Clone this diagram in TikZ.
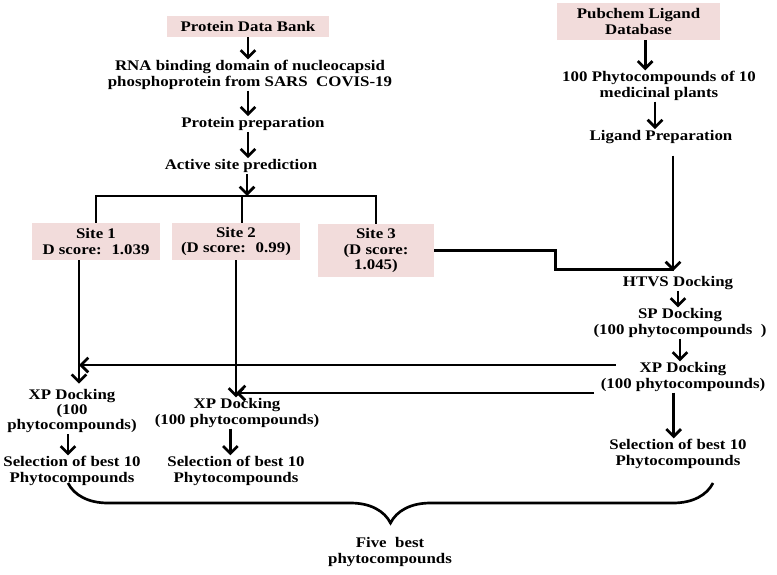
\documentclass[tikz,border=0pt]{standalone}
\usepackage{fontspec}
\setmainfont{Liberation Serif}[FakeStretch=1.15]
\usetikzlibrary{arrows.meta,decorations.pathreplacing}

\definecolor{boxpink}{RGB}{242,220,219}

\tikzset{
  lbl/.style={inner sep=0.75pt, align=center, font=\fontsize{11}{11.5}\selectfont\bfseries},
  pinkbox/.style={lbl, fill=boxpink},
  conn/.style={line width=2pt},
  arr/.style={conn, -{Straight Barb[length=5.5pt,width=11pt]}},
}

\begin{document}
\begin{tikzpicture}[x=0.75pt,y=0.75pt,yscale=-1,xscale=1]
\useasboundingbox (0,0) rectangle (777,574);

% Text Node
\node (pdb) at (248,26.5) [pinkbox, minimum width=122pt, minimum height=16pt] {Protein Data Bank};
% Text Node
\node (rna) at (250,75) [lbl] {RNA binding domain of nucleocapsid\\phosphoprotein from SARS~ COVIS-19};
% Text Node
\node (prep) at (253,124) [lbl] {Protein preparation};
% Text Node
\node (asp) at (241,166) [lbl] {Active site prediction};
\coordinate (jn) at (247,196);

% Text Node
\node (site1) at (96,241.5) [pinkbox, minimum width=96pt, minimum height=27.75pt] {Site 1\\D score:~ 1.039};
% Text Node
\node (site2) at (236,241.5) [pinkbox, minimum width=96pt, minimum height=27.75pt] {Site 2\\(D score:~ 0.99)};
% Text Node
\node (site3) at (376,250.5) [pinkbox, minimum width=87pt, minimum height=39.75pt] {Site 3\\(D score:\\1.045)};

% Text Node
\node (pub) at (638.5,21.5) [pinkbox, minimum width=122pt, minimum height=27.75pt] {Pubchem Ligand\\Database};
% Text Node
\node (phy) at (659,86) [lbl] {100 Phytocompounds of 10\\medicinal plants};
% Text Node
\node (lig) at (661,137) [lbl] {Ligand Preparation};
% Text Node
\node (htvs) at (678,283) [lbl] {HTVS Docking};
% Text Node
\node (sp) at (680,323) [lbl] {SP Docking\\(100 phytocompounds~ )};
% Text Node
\node (xpr) at (683,377) [lbl] {XP Docking\\(100 phytocompounds)};
% Text Node
\node (selr) at (678,454) [lbl] {Selection of best 10\\Phytocompounds};

% Text Node
\node (xp1) at (72,411) [lbl] {XP Docking\\(100\\phytocompounds)};
% Text Node
\node (sel1) at (72,471) [lbl] {Selection of best 10\\Phytocompounds};
% Text Node
\node (xp2) at (237,413) [lbl] {XP Docking\\(100 phytocompounds)};
% Text Node
\node (sel2) at (236,471) [lbl] {Selection of best 10\\Phytocompounds};
% Text Node
\node (five) at (390,552) [lbl] {Five~ best\\phytocompounds};

\coordinate (s1) at ([xshift=-12.75pt]site1.south);
\coordinate (xa) at ([xshift=12pt,yshift=-9pt]xpr.west);
\coordinate (xb) at ([xshift=-4pt,yshift=12pt]xpr.west);
\coordinate (bl) at (68,483);
\coordinate (br) at (713,483);

% protein side
\draw [arr] (pdb.south) -- (pdb.south |- rna.north);
\draw [arr] (rna.south -| pdb.south) -- (pdb.south |- prep.north);
\draw [arr] (prep.south -| pdb.south) -- (pdb.south |- asp.north);
\draw [arr] (asp.south -| jn) -- (jn);
\draw [conn] (site1.north) |- (jn) -| (site3.north);
\draw [conn] ([xshift=4.5pt]site2.north) -- ([xshift=4.5pt]site2.north |- jn);

% ligand side
\draw [arr] ([xshift=5pt]pub.south) -- ([xshift=5pt]pub.south |- phy.north);
\draw [arr] ([xshift=-3pt]phy.south) -- ([xshift=-3pt]phy.south |- lig.north);
\draw [arr] ([xshift=9pt,yshift=8pt]lig.south) -- ([xshift=9pt,yshift=-3pt]lig.south |- htvs.north);
\draw [conn] (site3.east) -- ++(121,0) |- ([xshift=-3pt,yshift=-4pt]htvs.north);
\draw [arr] (htvs.south) -- (htvs.south |- sp.north);
\draw [arr] (sp.south) -- (sp.south |- xpr.north);
\draw [arr] ([xshift=-7pt]xpr.south) -- ([xshift=-7pt]xpr.south |- selr.north);

% sites to XP docking
\draw [arr] (s1) -- ([yshift=-3pt]s1 |- xp1.north);
\draw [arr] (site2.south) -- (site2.south |- xp2.north);
\draw [arr] (xa) -- (xa -| s1);
\draw [arr] (xb) -- (xb -| site2.south);
\draw [arr] ([xshift=-3pt]xp1.south) -- ([xshift=-3pt]xp1.south |- sel1.north);
\draw [arr] ([xshift=-5pt]xp2.south) -- ([xshift=-5pt]xp2.south |- sel2.north);

% final brace
\draw [conn, decorate, decoration={brace, mirror, amplitude=30pt, aspect=0.5}] (bl) -- (br);

\end{tikzpicture}
\end{document}
